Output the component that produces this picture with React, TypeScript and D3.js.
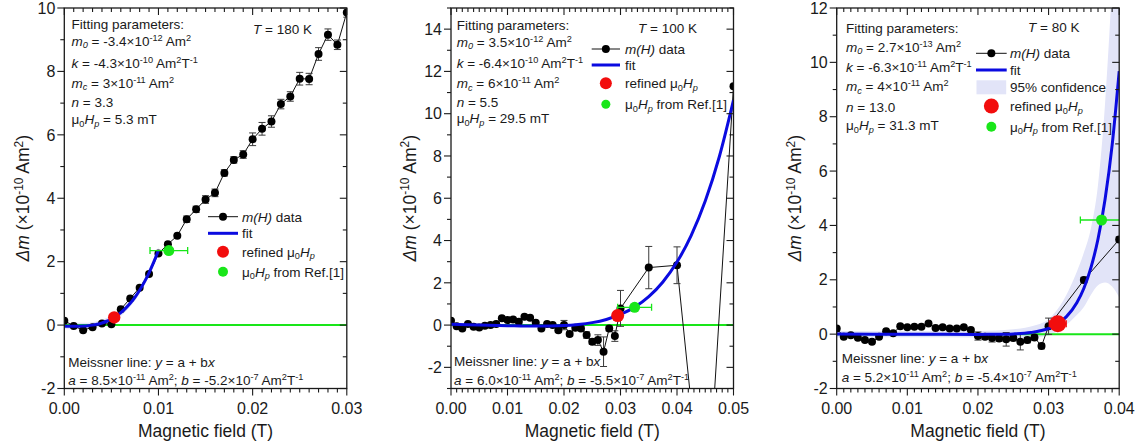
import React from 'react';
import * as d3 from 'd3';

const FONT = '"Liberation Sans", Arial, Helvetica, sans-serif';

// ---------- Panel 1 : T = 180 K ----------
const p1Field = [0, 0.001, 0.002, 0.003, 0.004, 0.005, 0.006, 0.007, 0.008, 0.009, 0.01, 0.011, 0.012, 0.013, 0.014, 0.015, 0.016, 0.017, 0.018, 0.019, 0.02, 0.021, 0.022, 0.023, 0.024, 0.025, 0.026, 0.027, 0.028, 0.029, 0.03];
const p1Moment = [0.14, -0.03, -0.16, -0.07, 0.05, 0.03, 0.5, 0.84, 1.18, 1.61, 2.26, 2.55, 2.82, 3.34, 3.65, 3.96, 4.17, 4.8, 5.21, 5.38, 5.86, 6.19, 6.42, 6.97, 7.21, 7.77, 7.76, 8.55, 9.16, 8.84, 9.86];
const p1Err = [0.05, 0.05, 0.05, 0.05, 0.05, 0.05, 0.05, 0.05, 0.05, 0.05, 0.05, 0.05, 0.05, 0.1, 0.1, 0.12, 0.12, 0.1, 0.1, 0.12, 0.2, 0.2, 0.18, 0.15, 0.15, 0.2, 0.18, 0.2, 0.18, 0.15, 0.15];
const p1FitField = [0, 0.0005, 0.001, 0.0015, 0.002, 0.0025, 0.003, 0.0035, 0.004, 0.0045, 0.005, 0.0055, 0.006, 0.0065, 0.007, 0.0075, 0.008, 0.0085, 0.009, 0.0095, 0.01];
const p1FitMoment = [-0.034, -0.036, -0.037, -0.036, -0.031, -0.02, -0.001, 0.027, 0.067, 0.121, 0.192, 0.281, 0.392, 0.526, 0.687, 0.877, 1.099, 1.355, 1.649, 1.984, 2.36];
const p1BandField = [0, 0.002, 0.004, 0.006, 0.008, 0.01];
const p1BandUpper = [0.07, 0.07, 0.17, 0.49, 1.2, 2.46];
const p1BandLower = [-0.13, -0.13, -0.03, 0.29, 1.0, 2.26];
const p1Refined = { h: 0.0053, m: 0.24, r: 6.2, xerr: 0 };
const p1Ref = { h: 0.0111, m: 2.35, r: 5.5, xerr: 0.002 };

// ---------- Panel 2 : T = 100 K ----------
const p2Field = [0, 0.001, 0.002, 0.003, 0.004, 0.005, 0.006, 0.007, 0.008, 0.009, 0.01, 0.011, 0.012, 0.013, 0.014, 0.015, 0.016, 0.017, 0.018, 0.019, 0.02, 0.021, 0.022, 0.023, 0.024, 0.025, 0.026, 0.027, 0.028, 0.029, 0.03, 0.035, 0.04, 0.045, 0.05];
const p2Moment = [0.2, -0.05, -0.16, 0.05, -0.08, -0.11, -0.03, 0.0, 0.05, 0.32, 0.24, 0.27, 0.16, 0.39, 0.35, 0.11, -0.16, 0.05, 0.0, -0.24, 0.0, -0.42, -0.13, -0.16, -0.47, -0.79, -0.71, -1.26, -0.16, -0.52, 0.79, 2.72, 2.83, -10.2, 11.3];
const p2Err = [0.05, 0.05, 0.05, 0.05, 0.05, 0.05, 0.05, 0.05, 0.05, 0.05, 0.05, 0.05, 0.05, 0.05, 0.05, 0.05, 0.05, 0.05, 0.05, 0.1, 0.22, 0.1, 0.1, 0.1, 0.15, 0.12, 0.25, 0.7, 0.12, 0.25, 0.85, 1.0, 0.87, 0, 0];
const p2FitField = [0, 0.005, 0.01, 0.015, 0.02, 0.0225, 0.025, 0.0275, 0.03, 0.0325, 0.035, 0.0375, 0.04, 0.0425, 0.045, 0.0475, 0.05];
const p2FitMoment = [0.035, 0.003, -0.027, -0.047, -0.022, 0.026, 0.116, 0.267, 0.501, 0.849, 1.347, 2.041, 2.982, 4.232, 5.867, 7.974, 10.64];
const p2Refined = { h: 0.0295, m: 0.45, r: 6.5, xerr: 0 };
const p2Ref = { h: 0.0325, m: 0.84, r: 5.5, xerr: 0.003 };

// ---------- Panel 3 : T = 80 K ----------
const p3Field = [0, 0.001, 0.002, 0.003, 0.004, 0.005, 0.006, 0.007, 0.008, 0.009, 0.01, 0.011, 0.012, 0.013, 0.014, 0.015, 0.016, 0.017, 0.018, 0.019, 0.02, 0.021, 0.022, 0.023, 0.024, 0.025, 0.026, 0.027, 0.028, 0.029, 0.03, 0.035, 0.04];
const p3Moment = [0.21, -0.1, -0.04, -0.13, -0.22, -0.28, -0.1, 0.11, 0.03, 0.29, 0.25, 0.27, 0.27, 0.39, 0.23, 0.25, 0.21, 0.21, 0.25, 0.15, -0.07, -0.1, -0.14, -0.16, -0.19, -0.14, -0.28, -0.22, -0.12, -0.44, 0.29, 1.99, 3.48];
const p3Err = [0.05, 0.05, 0.05, 0.05, 0.05, 0.05, 0.05, 0.05, 0.05, 0.05, 0.05, 0.05, 0.05, 0.05, 0.05, 0.05, 0.05, 0.05, 0.05, 0.05, 0.15, 0.1, 0.15, 0.1, 0.25, 0.1, 0.3, 0.1, 0.1, 0.1, 0.3, 0.1, 0.1];
const p3FitField = [0, 0.01, 0.02, 0.0225, 0.025, 0.0275, 0.03, 0.0313, 0.0325, 0.034, 0.035, 0.036, 0.037, 0.038, 0.039, 0.04];
const p3FitMoment = [0.003, -0.004, -0.009, -0.006, 0.009, 0.06, 0.214, 0.383, 0.634, 1.155, 1.69, 2.449, 3.5, 4.96, 6.955, 9.68];
const p3BandField = [0, 0.01, 0.02, 0.025, 0.028, 0.03, 0.032, 0.033, 0.034, 0.035, 0.036, 0.037, 0.038, 0.039, 0.04];
const p3BandUpper = [0.12, 0.11, 0.12, 0.18, 0.32, 0.55, 1.2, 1.7, 2.3, 3.0, 3.9, 5.5, 8.5, 13, 19];
const p3BandLower = [-0.12, -0.11, -0.12, -0.14, -0.12, -0.05, 0.25, 0.45, 0.7, 1.0, 1.45, 1.8, 1.9, 1.75, 1.35];
const p3Refined = { h: 0.0313, m: 0.38, r: 8.5, xerr: 0.0012 };
const p3Ref = { h: 0.0375, m: 4.2, r: 5.5, xerr: 0.003 };

// ---------- Tick labels ----------
const p1XTicks = [0, 0.01, 0.02, 0.03];
const p1XLabels = ['0.00', '0.01', '0.02', '0.03'];
const p1YTicks = [-2, 0, 2, 4, 6, 8, 10];
const p1YLabels = ['-2', '0', '2', '4', '6', '8', '10'];
const p2XTicks = [0, 0.01, 0.02, 0.03, 0.04, 0.05];
const p2XLabels = ['0.00', '0.01', '0.02', '0.03', '0.04', '0.05'];
const p2YTicks = [-2, 0, 2, 4, 6, 8, 10, 12, 14];
const p2YLabels = ['-2', '0', '2', '4', '6', '8', '10', '12', '14'];
const p3XTicks = [0, 0.01, 0.02, 0.03, 0.04];
const p3XLabels = ['0.00', '0.01', '0.02', '0.03', '0.04'];
const p3YTicks = [-2, 0, 2, 4, 6, 8, 10, 12];
const p3YLabels = ['-2', '0', '2', '4', '6', '8', '10', '12'];

// ---------- Texts ----------
const p1Params = ['Fitting parameters:', '*m*_{*0*} = -3.4×10^{-12} Am^{2}', '*k* = -4.3×10^{-10} Am^{2}T^{-1}', '*m*_{*c*} = 3×10^{-11} Am^{2}', '*n* = 3.3', 'μ_{0}*H*_{*p*} = 5.3 mT'];
const p2Params = ['Fitting parameters:', '*m*_{*0*} = 3.5×10^{-12} Am^{2}', '*k* = -6.4×10^{-10} Am^{2}T^{-1}', '*m*_{*c*} = 6×10^{-11} Am^{2}', '*n* = 5.5', 'μ_{0}*H*_{*p*} = 29.5 mT'];
const p3Params = ['Fitting parameters:', '*m*_{*0*} = 2.7×10^{-13} Am^{2}', '*k* = -6.3×10^{-11} Am^{2}T^{-1}', '*m*_{*c*} = 4×10^{-11} Am^{2}', '*n* = 13.0', 'μ_{0}*H*_{*p*} = 31.3 mT'];
const p1Meissner = ['Meissner line: *y* = a + b*x*', '*a* = 8.5×10^{-11} Am^{2}; *b* = -5.2×10^{-7} Am^{2}T^{-1}'];
const p2Meissner = ['Meissner line: *y* = a + b*x*', '*a* = 6.0×10^{-11} Am^{2}; *b* = -5.5×10^{-7} Am^{2}T^{-1}'];
const p3Meissner = ['Meissner line: *y* = a + b*x*', '*a* = 5.2×10^{-11} Am^{2}; *b* = -5.4×10^{-7} Am^{2}T^{-1}'];
const LEG_DATA = '*m(H)* data';
const LEG_FIT = 'fit';
const LEG_CONF = '95% confidence';
const LEG_REFINED = 'refined μ_{0}*H*_{*p*}';
const LEG_REF = 'μ_{0}*H*_{*p*} from Ref.[1]';
const X_TITLE = 'Magnetic field (T)';
const Y_TITLE = '*Δm* (×10^{-10} Am^{2})';

// ---------- colours ----------
const BLUE = '#0b0be0';
const RED = '#f20d0d';
const GREEN = '#19e619';
const BAND = '#e2e4f8';
const AXIS = '#1a1a1a';

type Seg = { t: string; i: boolean; mode: 'n' | 'sup' | 'sub' };

function parseRich(s: string): Seg[] {
  const segs: Seg[] = [];
  let italic = false;
  let mode: 'n' | 'sup' | 'sub' = 'n';
  let buf = '';
  const flush = () => {
    if (buf) segs.push({ t: buf, i: italic, mode });
    buf = '';
  };
  for (let k = 0; k < s.length; k++) {
    const c = s[k];
    if (c === '*') { flush(); italic = !italic; continue; }
    if ((c === '^' || c === '_') && s[k + 1] === '{') { flush(); mode = c === '^' ? 'sup' : 'sub'; k++; continue; }
    if (c === '}' && mode !== 'n') { flush(); mode = 'n'; continue; }
    buf += c;
  }
  flush();
  return segs;
}

function Rich({ s, x, y, fs, anchor, transform }: { s: string; x?: number; y?: number; fs: number; anchor?: string; transform?: string }) {
  const segs = parseRich(s);
  let shift = 0;
  return (
    <text x={x} y={y} fontSize={fs} fontFamily={FONT} fill="#1a1a1a" textAnchor={anchor || 'start'} transform={transform} style={{ whiteSpace: 'pre' }}>
      {segs.map((g, k) => {
        const target = g.mode === 'sup' ? -0.36 * fs : g.mode === 'sub' ? 0.22 * fs : 0;
        const dy = target - shift;
        shift = target;
        return (
          <tspan key={k} dy={dy !== 0 ? dy : undefined} fontStyle={g.i ? 'italic' : undefined} fontSize={g.mode === 'n' ? undefined : fs * 0.68}>
            {g.t}
          </tspan>
        );
      })}
    </text>
  );
}

const TOP = 8;
const BOTTOM = 388.5;
const PW = 282.5;

type Mark = { h: number; m: number; r: number; xerr: number };
type PanelCfg = {
  id: string;
  left: number;
  xDomain: [number, number];
  yDomain: [number, number];
  xTicks: number[]; xLabels: string[]; yTicks: number[]; yLabels: string[];
  field: number[]; moment: number[]; err: number[];
  fitField: number[]; fitMoment: number[];
  bandField?: number[]; bandUpper?: number[]; bandLower?: number[];
  refined: Mark; ref: Mark;
  params: string[]; paramY: number[]; paramX: number;
  meissner: string[]; meissnerY: number[]; meissnerX: number;
  temp: string; tempX: number; tempY: number;
  legend: { x0: number; x1: number; tx: number; ys: number[]; conf: boolean; redR: number; greenR: number };
};

function Panel({ c }: { c: PanelCfg }) {
  const x = d3.scaleLinear().domain(c.xDomain).range([c.left, c.left + PW]);
  const y = d3.scaleLinear().domain(c.yDomain).range([BOTTOM, TOP]);
  const right = c.left + PW;
  const nx = Math.round((c.xDomain[1] - c.xDomain[0]) * 1000);
  const ny = Math.round(c.yDomain[1] - c.yDomain[0]);
  const xMinor = x.ticks(nx);
  const yMinor = y.ticks(ny);

  const pts = c.field.map((h, k) => ({ h, m: c.moment[k], e: c.err[k] }));
  const dataLine = d3.line<{ h: number; m: number }>().x(d => x(d.h)).y(d => y(d.m));
  const fitPts = c.fitField.map((h, k) => ({ h, m: c.fitMoment[k] }));
  const fitLine = d3.line<{ h: number; m: number }>().x(d => x(d.h)).y(d => y(d.m)).curve(d3.curveMonotoneX);
  let bandPath: string | null = null;
  if (c.bandField && c.bandUpper && c.bandLower) {
    const bp = c.bandField.map((h, k) => ({ h, u: c.bandUpper![k], l: c.bandLower![k] }));
    bandPath = d3.area<{ h: number; u: number; l: number }>().x(d => x(d.h)).y0(d => y(d.l)).y1(d => y(d.u)).curve(d3.curveMonotoneX)(bp);
  }
  const clip = `clip-${c.id}`;
  const cap = 3.5;
  const MAJ = 7, MIN = 4;

  return (
    <g>
      <defs>
        <clipPath id={clip}>
          <rect x={c.left} y={TOP} width={PW} height={BOTTOM - TOP} />
        </clipPath>
      </defs>
      <g clipPath={`url(#${clip})`}>
        {bandPath && <path d={bandPath} fill={BAND} stroke="none" />}
        <line x1={x(c.xDomain[0])} x2={x(c.xDomain[1])} y1={y(0)} y2={y(0)} stroke={GREEN} strokeWidth={2} />
        <path d={dataLine(pts) || ''} fill="none" stroke="#111" strokeWidth={1} />
        {pts.filter(p => p.e > 0.06).map((p, k) => (
          <g key={k} stroke="#3a3a3a" strokeWidth={1}>
            <line x1={x(p.h)} x2={x(p.h)} y1={y(p.m - p.e)} y2={y(p.m + p.e)} />
            <line x1={x(p.h) - cap} x2={x(p.h) + cap} y1={y(p.m - p.e)} y2={y(p.m - p.e)} />
            <line x1={x(p.h) - cap} x2={x(p.h) + cap} y1={y(p.m + p.e)} y2={y(p.m + p.e)} />
          </g>
        ))}
        {pts.map((p, k) => (
          <circle key={k} cx={x(p.h)} cy={y(p.m)} r={4} fill="#000" />
        ))}
        <path d={fitLine(fitPts) || ''} fill="none" stroke={BLUE} strokeWidth={3} />
        {/* reference point */}
        <g stroke={GREEN} strokeWidth={1.3}>
          <line x1={x(c.ref.h - c.ref.xerr)} x2={x(c.ref.h + c.ref.xerr)} y1={y(c.ref.m)} y2={y(c.ref.m)} />
          <line x1={x(c.ref.h - c.ref.xerr)} x2={x(c.ref.h - c.ref.xerr)} y1={y(c.ref.m) - cap} y2={y(c.ref.m) + cap} />
          <line x1={x(c.ref.h + c.ref.xerr)} x2={x(c.ref.h + c.ref.xerr)} y1={y(c.ref.m) - cap} y2={y(c.ref.m) + cap} />
        </g>
        <circle cx={x(c.ref.h)} cy={y(c.ref.m)} r={c.ref.r} fill={GREEN} />
        {c.refined.xerr > 0 && (
          <g stroke={RED} strokeWidth={1.3}>
            <line x1={x(c.refined.h - c.refined.xerr)} x2={x(c.refined.h + c.refined.xerr)} y1={y(c.refined.m)} y2={y(c.refined.m)} />
            <line x1={x(c.refined.h - c.refined.xerr)} x2={x(c.refined.h - c.refined.xerr)} y1={y(c.refined.m) - cap} y2={y(c.refined.m) + cap} />
            <line x1={x(c.refined.h + c.refined.xerr)} x2={x(c.refined.h + c.refined.xerr)} y1={y(c.refined.m) - cap} y2={y(c.refined.m) + cap} />
          </g>
        )}
        <circle cx={x(c.refined.h)} cy={y(c.refined.m)} r={c.refined.r} fill={RED} />
      </g>

      {/* frame */}
      <rect x={c.left} y={TOP} width={PW} height={BOTTOM - TOP} fill="none" stroke={AXIS} strokeWidth={1.3} />
      {/* x ticks */}
      {xMinor.map((t, k) => {
        const isMaj = c.xTicks.some(v => Math.abs(v - t) < 1e-9);
        const L = isMaj ? MAJ : MIN;
        return (
          <g key={k} stroke={AXIS} strokeWidth={1.1}>
            <line x1={x(t)} x2={x(t)} y1={BOTTOM} y2={BOTTOM + L} />
            <line x1={x(t)} x2={x(t)} y1={TOP} y2={TOP + L} />
          </g>
        );
      })}
      {yMinor.map((t, k) => {
        const isMaj = c.yTicks.includes(t);
        const L = isMaj ? MAJ : MIN;
        return (
          <g key={k} stroke={AXIS} strokeWidth={1.1}>
            <line x1={c.left - L} x2={c.left} y1={y(t)} y2={y(t)} />
            <line x1={right - L} x2={right} y1={y(t)} y2={y(t)} />
          </g>
        );
      })}
      {c.xTicks.map((t, k) => (
        <text key={k} x={x(t)} y={BOTTOM + 25} fontSize={16} fontFamily={FONT} fill="#1a1a1a" textAnchor="middle">{c.xLabels[k]}</text>
      ))}
      {c.yTicks.map((t, k) => (
        <text key={k} x={c.left - 9} y={y(t) + 5.7} fontSize={16} fontFamily={FONT} fill="#1a1a1a" textAnchor="end">{c.yLabels[k]}</text>
      ))}
      <text x={c.left + PW / 2} y={437} fontSize={17.5} fontFamily={FONT} fill="#1a1a1a" textAnchor="middle">{X_TITLE}</text>
      <Rich s={Y_TITLE} fs={17.5} anchor="middle" transform={`translate(${c.left - 35.5},${(TOP + BOTTOM) / 2}) rotate(-90)`} />

      {/* annotations */}
      {c.params.map((s, k) => (
        <Rich key={k} s={s} x={c.paramX} y={c.paramY[k]} fs={13.5} />
      ))}
      {c.meissner.map((s, k) => (
        <Rich key={k} s={s} x={c.meissnerX} y={c.meissnerY[k]} fs={13.5} />
      ))}
      <Rich s={c.temp} x={c.tempX} y={c.tempY} fs={13.5} />

      {/* legend */}
      {(() => {
        const L = c.legend;
        const mid = (L.x0 + L.x1) / 2;
        const rows: React.ReactNode[] = [];
        let r = 0;
        rows.push(
          <g key="d">
            <line x1={L.x0} x2={L.x1} y1={L.ys[r]} y2={L.ys[r]} stroke="#111" strokeWidth={1} />
            <circle cx={mid} cy={L.ys[r]} r={4} fill="#000" />
            <Rich s={LEG_DATA} x={L.tx} y={L.ys[r] + 4.8} fs={13.5} />
          </g>
        );
        r++;
        rows.push(
          <g key="f">
            <line x1={L.x0} x2={L.x1} y1={L.ys[r]} y2={L.ys[r]} stroke={BLUE} strokeWidth={3} />
            <Rich s={LEG_FIT} x={L.tx} y={L.ys[r] + 4.8} fs={13.5} />
          </g>
        );
        r++;
        if (L.conf) {
          rows.push(
            <g key="c">
              <rect x={L.x0 + 0.5} y={L.ys[r] - 7} width={L.x1 - L.x0 - 1} height={14} fill={BAND} />
              <Rich s={LEG_CONF} x={L.tx} y={L.ys[r] + 4.8} fs={13.5} />
            </g>
          );
          r++;
        }
        rows.push(
          <g key="r">
            <circle cx={mid} cy={L.ys[r]} r={L.redR} fill={RED} />
            <Rich s={LEG_REFINED} x={L.tx} y={L.ys[r] + 4.8} fs={13.5} />
          </g>
        );
        r++;
        rows.push(
          <g key="g">
            <circle cx={mid} cy={L.ys[r]} r={L.greenR} fill={GREEN} />
            <Rich s={LEG_REF} x={L.tx} y={L.ys[r] + 4.8} fs={13.5} />
          </g>
        );
        return rows;
      })()}
    </g>
  );
}

const panels: PanelCfg[] = [
  {
    id: 'p1', left: 64.3, xDomain: [0, 0.03], yDomain: [-2, 10],
    xTicks: p1XTicks, xLabels: p1XLabels, yTicks: p1YTicks, yLabels: p1YLabels,
    field: p1Field, moment: p1Moment, err: p1Err,
    fitField: p1FitField, fitMoment: p1FitMoment,
    bandField: p1BandField, bandUpper: p1BandUpper, bandLower: p1BandLower,
    refined: p1Refined, ref: p1Ref,
    params: p1Params, paramY: [29, 45.5, 67.5, 87.5, 106.5, 124], paramX: 71.5,
    meissner: p1Meissner, meissnerY: [366.5, 385], meissnerX: 68.3,
    temp: '*T* = 180 K', tempX: 253, tempY: 34,
    legend: { x0: 208, x1: 238, tx: 242, ys: [216.7, 233.3, 251.7, 271.7], conf: false, redR: 6, greenR: 5 },
  },
  {
    id: 'p2', left: 451, xDomain: [0, 0.05], yDomain: [-3, 15],
    xTicks: p2XTicks, xLabels: p2XLabels, yTicks: p2YTicks, yLabels: p2YLabels,
    field: p2Field, moment: p2Moment, err: p2Err,
    fitField: p2FitField, fitMoment: p2FitMoment,
    refined: p2Refined, ref: p2Ref,
    params: p2Params, paramY: [29.5, 46.5, 68, 88, 106.5, 123], paramX: 456.7,
    meissner: p2Meissner, meissnerY: [366, 385], meissnerX: 454,
    temp: '*T* = 100 K', tempX: 638, tempY: 33,
    legend: { x0: 591.7, x1: 620, tx: 625, ys: [49, 65, 83.3, 104.3], conf: false, redR: 6, greenR: 4.5 },
  },
  {
    id: 'p3', left: 836.7, xDomain: [0, 0.04], yDomain: [-2, 12],
    xTicks: p3XTicks, xLabels: p3XLabels, yTicks: p3YTicks, yLabels: p3YLabels,
    field: p3Field, moment: p3Moment, err: p3Err,
    fitField: p3FitField, fitMoment: p3FitMoment,
    bandField: p3BandField, bandUpper: p3BandUpper, bandLower: p3BandLower,
    refined: p3Refined, ref: p3Ref,
    params: p3Params, paramY: [33, 51.5, 71.5, 91, 111.5, 130], paramX: 846,
    meissner: p3Meissner, meissnerY: [363, 381.5], meissnerX: 841.7,
    temp: '*T* = 80 K', tempX: 1028, tempY: 31.5,
    legend: { x0: 976, x1: 1006.7, tx: 1010, ys: [53.3, 70, 87.3, 106, 126.7], conf: true, redR: 7.5, greenR: 5 },
  },
];

export default function App() {
  return (
    <svg width={1142} height={448} style={{ position: 'absolute', left: 0, top: 0, background: '#fff' }}>
      <rect x={0} y={0} width={1142} height={448} fill="#fff" />
      {panels.map(p => <Panel key={p.id} c={p} />)}
    </svg>
  );
}
